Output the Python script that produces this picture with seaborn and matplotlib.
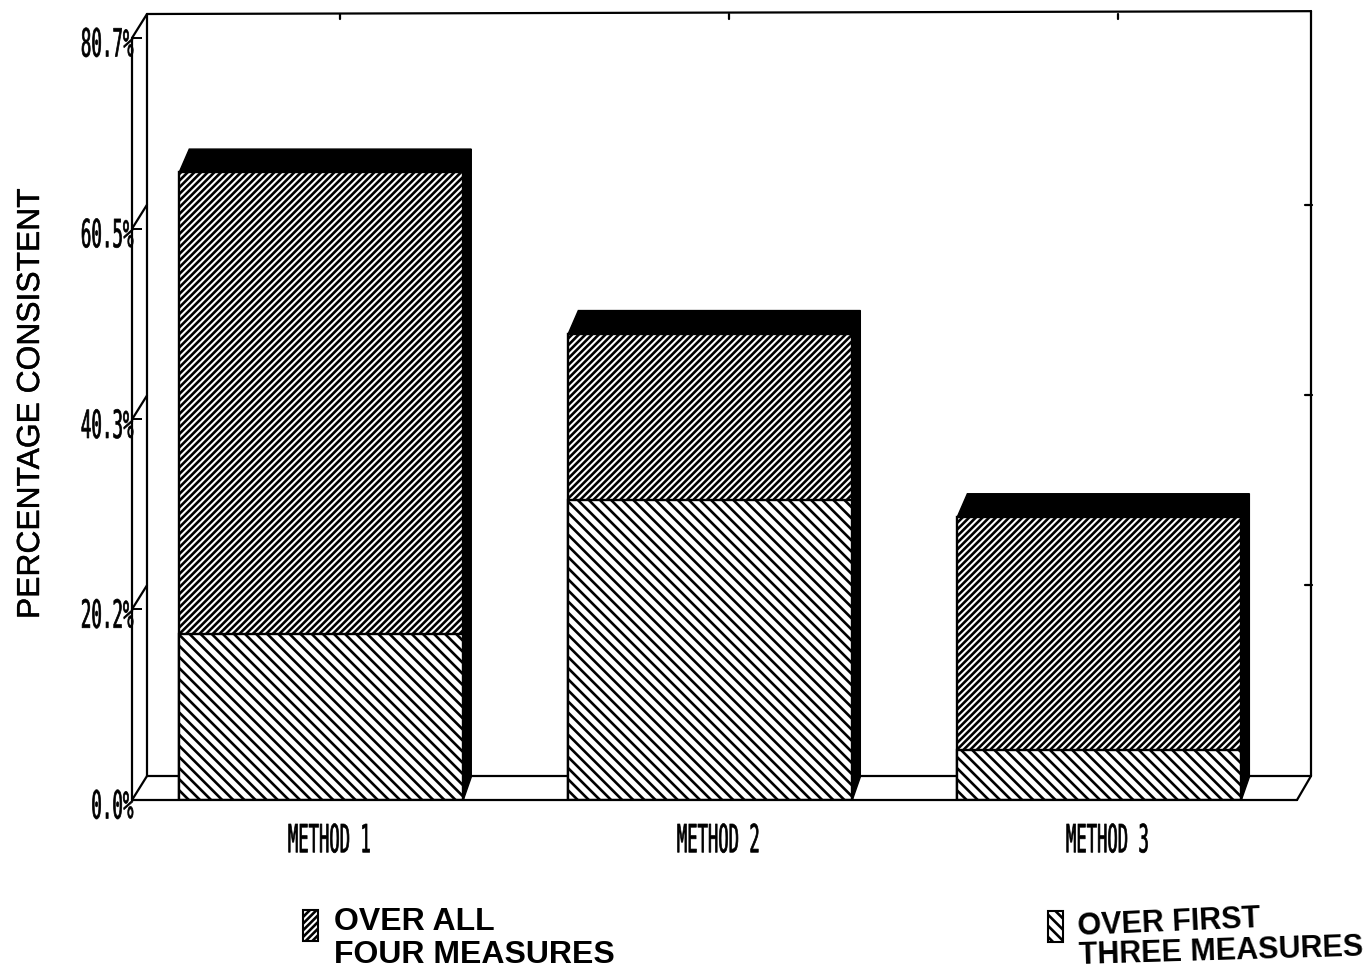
import numpy as np
import pandas as pd
import matplotlib
matplotlib.use('Agg')
import matplotlib.pyplot as plt
from matplotlib.patches import Polygon, Rectangle
from matplotlib.patheffects import AbstractPathEffect, withStroke
from matplotlib.transforms import Affine2D
import seaborn as sns

# values
methods = ['METHOD 1', 'METHOD 2', 'METHOD 3']
first_three = [17.6, 31.8, 5.3]
all_four = [66.5, 49.4, 30.0]
y_ticks = [0, 20.2, 40.3, 60.5, 80.7]
y_labels = ['0.0%', '20.2%', '40.3%', '60.5%', '80.7%']

W, H = 1367, 972
LEFT, RIGHT, BOTTOM, TOP = 132, 1297, 800, 38
HATCH_TOP = '/' * 5
HATCH_LOW = '\\' * 3


class Squeeze(AbstractPathEffect):
    # old plotter lettering is tall and thin, no font here has that shape
    def __init__(self, sx, sy, anchor='center', dx=0, dy=0, lw=0.5):
        self.sx, self.sy, self.anchor = sx, sy, anchor
        self.dx, self.dy, self.lw = dx, dy, lw

    def draw_path(self, renderer, gc, tpath, affine, rgbFace=None):
        ext = tpath.get_extents()
        x0 = {'center': (ext.x0 + ext.x1) / 2, 'right': ext.x1}[self.anchor]
        tr = (Affine2D().translate(-x0, 0).scale(self.sx, self.sy).translate(x0, 0)
              + affine + Affine2D().translate(self.dx, self.dy))
        gc0 = renderer.new_gc()
        gc0.copy_properties(gc)
        gc0.set_linewidth(self.lw)
        gc0.set_foreground('black')
        renderer.draw_path(gc0, tpath, tr, rgbFace)
        gc0.restore()


sns.set_theme(style='white')
plt.rcParams['hatch.linewidth'] = 1.9
plt.rcParams['hatch.color'] = 'black'
MONO = ['DejaVu Sans Mono']

fig = plt.figure(figsize=(W / 100, H / 100), dpi=100)
ax = fig.add_axes([LEFT / W, 1 - BOTTOM / H, (RIGHT - LEFT) / W, (BOTTOM - TOP) / H])

df = pd.DataFrame({'method': methods, 'top': all_four, 'low': first_three})

# upper part is the full bar, lower part painted over it
sns.barplot(data=df, x='method', y='top', color='white', width=0.73, saturation=1,
            edgecolor='black', linewidth=1.7, hatch=HATCH_TOP, ax=ax)
n_top = len(ax.patches)
sns.barplot(data=df, x='method', y='low', color='white', width=0.73, saturation=1,
            edgecolor='black', linewidth=1.7, hatch=HATCH_LOW, ax=ax)

ax.set_xlim(-0.4865, 2.508)
ax.set_ylim(0, 80.7)
ux = 389.0
uy = (BOTTOM - TOP) / 80.7

# black 3d cap and side of each bar
bdx, bdy = 8 / ux, 23 / uy
for p in ax.patches[:n_top]:
    x0, w, h = p.get_x(), p.get_width(), p.get_height()
    ax.add_patch(Polygon([(x0, h), (x0 + bdx + 2 / ux, h + bdy), (x0 + w + bdx, h + bdy), (x0 + w, h)],
                         closed=True, fc='black', ec='black', clip_on=False, zorder=3))
    ax.add_patch(Polygon([(x0 + w, 0), (x0 + w + bdx, bdy), (x0 + w + bdx, h + bdy), (x0 + w, h)],
                         closed=True, fc='black', ec='black', clip_on=False, zorder=3))

# box walls and floor behind the bars
xa, xb = ax.get_xlim()
ddx, ddy = 15 / ux, 24 / uy
lkw = dict(color='black', lw=1.6, clip_on=False, solid_capstyle='round')
ax.plot([xa + ddx, xb + ddx - 1 / ux], [ddy, ddy], zorder=0.5, **lkw)
ax.plot([xa + ddx, xa + ddx], [ddy, 80.7 + ddy], zorder=0.5, **lkw)
ax.plot([xa + ddx, xb + ddx - 1 / ux], [80.7 + ddy, 80.7 + ddy + 0.3], zorder=0.5, **lkw)
ax.plot([xb + ddx - 1 / ux, xb + ddx - 1 / ux], [ddy, 80.7 + ddy + 0.3], zorder=0.5, **lkw)
ax.plot([xb, xb + ddx - 1 / ux], [0, ddy], zorder=0.5, **lkw)
ax.plot([xa, xb], [0, 0], zorder=4, **lkw)
ax.plot([xa, xa], [0, 80.7], zorder=4, **lkw)

# slanted ticks on the left wall, flat ones on back right and top
for v in y_ticks:
    ax.plot([xa, xa + ddx], [v, v + ddy], zorder=0.5, **lkw)
    if 0 < v < 80:
        ax.plot([xb + ddx - 7 / ux, xb + ddx], [v + ddy, v + ddy], zorder=0.5, **lkw)
for i in range(len(methods)):
    ax.plot([i + 19 / ux, i + 19 / ux], [80.7 + ddy, 80.7 + ddy - 5 / uy], zorder=0.5, **lkw)

for s in ax.spines.values():
    s.set_visible(False)
ax.set_xlabel('')
ax.set_ylabel('')
ax.set_yticks(y_ticks)
ax.set_yticklabels(y_labels, family=MONO, fontsize=21, color='black')
ax.tick_params(axis='y', length=7, width=1.4, color='black', left=True, direction='in', pad=-1)
ax.set_xticks(range(len(methods)))
ax.set_xticklabels(methods, family=MONO, fontsize=21, color='black')
ax.tick_params(axis='x', length=0, pad=20)
for lab in ax.get_yticklabels():
    lab.set_path_effects([Squeeze(0.6, 1.33, 'right', dy=-7.5)])
for lab in ax.get_xticklabels():
    lab.set_path_effects([Squeeze(0.59, 1.33, 'center', dx=8, dy=-2.5)])


# page text
def px(x, y):
    return x / W, 1 - y / H


sans = ['Liberation Sans', 'DejaVu Sans']
ylab = fig.text(*px(31, 404), 'PERCENTAGE CONSISTENT', rotation=90, family=sans, fontsize=22.9,
                ha='center', va='center', color='black')
ylab.set_path_effects([withStroke(linewidth=0.3, foreground='black')])

fig.text(*px(334, 922), 'OVER ALL', family=sans, fontsize=23, weight='bold', ha='left', va='center', color='black')
fig.text(*px(334, 955), 'FOUR MEASURES', family=sans, fontsize=23, weight='bold', ha='left', va='center', color='black')
fig.text(*px(1078, 927), 'OVER FIRST', family=sans, fontsize=22, weight='bold', ha='left', va='center',
         rotation=2.5, rotation_mode='anchor', color='black')
fig.text(*px(1079, 956), 'THREE MEASURES', family=sans, fontsize=22, weight='bold', ha='left', va='center',
         rotation=1.7, rotation_mode='anchor', color='black')

for x0, y0, h_ in [(303, 941, HATCH_TOP), (1048, 942, HATCH_LOW)]:
    fig.add_artist(Rectangle(px(x0, y0), 15 / W, 31 / H, transform=fig.transFigure,
                             fc='white', ec='black', lw=1.5, hatch=h_))

fig.savefig('out.png', dpi=100, facecolor='white')
